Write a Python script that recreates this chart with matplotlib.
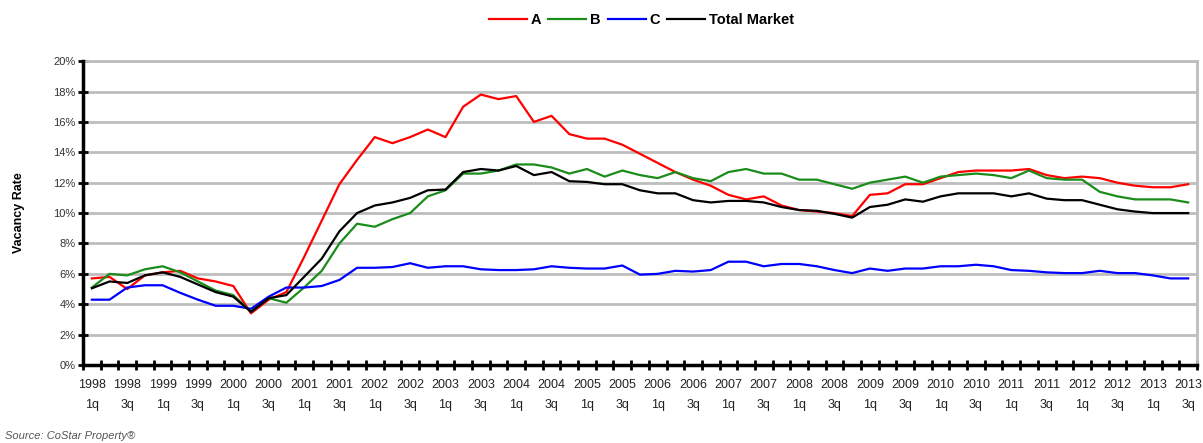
import numpy as np
import matplotlib
matplotlib.use('Agg')
import matplotlib.pyplot as plt
from matplotlib.ticker import FixedLocator, FuncFormatter

# quarterly vacancy rates (%), 1998 1q .. 2013 3q
years = list(range(1998, 2014))
quarters = ['%d %dq' % (y, q) for y in years for q in (1, 2, 3, 4)][:63]

class_a = [5.7, 5.8, 5.0, 5.9, 6.1, 6.2, 5.7, 5.5, 5.2, 3.4,
           4.3, 4.8, 7.1, 9.5, 11.9, 13.5, 15.0, 14.6, 15.0, 15.5,
           15.0, 17.0, 17.8, 17.5, 17.7, 16.0, 16.4, 15.2, 14.9, 14.9,
           14.5, 13.9, 13.3, 12.7, 12.2, 11.8, 11.2, 10.9, 11.1, 10.5,
           10.2, 10.1, 10.0, 9.8, 11.2, 11.3, 11.9, 11.9, 12.3, 12.7,
           12.8, 12.8, 12.8, 12.9, 12.5, 12.3, 12.4, 12.3, 12.0, 11.8,
           11.7, 11.7, 11.9]
class_b = [5.1, 6.0, 5.9, 6.3, 6.5, 6.1, 5.5, 4.9, 4.6, 3.5,
           4.4, 4.1, 5.1, 6.2, 8.0, 9.3, 9.1, 9.6, 10.0, 11.1,
           11.5, 12.6, 12.6, 12.8, 13.2, 13.2, 13.0, 12.6, 12.9, 12.4,
           12.8, 12.5, 12.3, 12.7, 12.3, 12.1, 12.7, 12.9, 12.6, 12.6,
           12.2, 12.2, 11.9, 11.6, 12.0, 12.2, 12.4, 12.0, 12.4, 12.5,
           12.6, 12.5, 12.3, 12.8, 12.3, 12.2, 12.2, 11.4, 11.1, 10.9,
           10.9, 10.9, 10.7]
class_c = [4.3, 4.3, 5.1, 5.25, 5.25, 4.75, 4.3, 3.9, 3.9, 3.7,
           4.5, 5.1, 5.1, 5.2, 5.6, 6.4, 6.4, 6.45, 6.7, 6.4,
           6.5, 6.5, 6.3, 6.25, 6.25, 6.3, 6.5, 6.4, 6.35, 6.35,
           6.55, 5.95, 6.0, 6.2, 6.15, 6.25, 6.8, 6.8, 6.5, 6.65,
           6.65, 6.5, 6.25, 6.05, 6.35, 6.2, 6.35, 6.35, 6.5, 6.5,
           6.6, 6.5, 6.25, 6.2, 6.1, 6.05, 6.05, 6.2, 6.05, 6.05,
           5.9, 5.7, 5.7]
total = [5.05, 5.5, 5.4, 5.9, 6.1, 5.8, 5.3, 4.8, 4.5, 3.5,
         4.4, 4.6, 5.8, 7.0, 8.8, 10.0, 10.5, 10.7, 11.0, 11.5,
         11.55, 12.7, 12.9, 12.8, 13.1, 12.5, 12.7, 12.1, 12.05, 11.9,
         11.9, 11.5, 11.3, 11.3, 10.85, 10.7, 10.8, 10.8, 10.7, 10.4,
         10.2, 10.15, 9.95, 9.7, 10.4, 10.55, 10.9, 10.75, 11.1, 11.3,
         11.3, 11.3, 11.1, 11.3, 10.95, 10.85, 10.85, 10.55, 10.25, 10.1,
         10.0, 10.0, 10.0]

series = [(class_a, 'A', '#ff0000'),
          (class_b, 'B', '#1a8c1a'),
          (class_c, 'C', '#0000ff'),
          (total, 'Total Market', '#000000')]

plt.rcParams['font.family'] = ['Liberation Sans', 'DejaVu Sans']

fig = plt.figure(figsize=(12.03, 4.43), dpi=100)
ax = fig.add_axes([0.069, 0.176, 0.926, 0.686])

x = np.arange(len(quarters))
for vals, name, col in series:
    ax.plot(x, vals, color=col, lw=1.6, label=name, zorder=3)

ax.set_xlim(-0.5, len(quarters) - 0.5)
ax.set_ylim(0, 20)

# grid lines
ax.set_yticks(np.arange(0, 21, 2))
ax.yaxis.set_major_formatter(FuncFormatter(lambda v, p: '%d%%' % v))
ax.grid(axis='y', color='#bdbdbd', lw=2, zorder=0)
ax.tick_params(axis='y', direction='inout', length=7, width=2, labelsize=8,
               labelcolor='#333333', pad=2)

# x labels every other quarter, tick marks between categories
lab_pos = x[::2]
ax.xaxis.set_major_locator(FixedLocator(lab_pos))
ax.set_xticklabels([q.replace(' ', '\n') for q in quarters[::2]],
                   fontsize=9, color='#222222', linespacing=1.9)
ax.tick_params(axis='x', which='major', length=0, pad=10)
ax.xaxis.set_minor_locator(FixedLocator(np.arange(-0.5, len(quarters), 1)))
ax.tick_params(axis='x', which='minor', direction='inout', length=7, width=2)

for s in ['left', 'bottom']:
    ax.spines[s].set_linewidth(2.5)
    ax.spines[s].set_color('black')
    ax.spines[s].set_zorder(4)
for s in ['top', 'right']:
    ax.spines[s].set_linewidth(2)
    ax.spines[s].set_color('#bdbdbd')

ax.set_ylabel('Vacancy Rate', fontsize=9, fontweight='bold', labelpad=20)

leg = fig.legend(loc='upper center', bbox_to_anchor=(0.533, 1.0), ncol=4,
                 frameon=False, fontsize=10.5, handlelength=2.6,
                 handletextpad=0.25, columnspacing=0.5)
for t in leg.get_texts():
    t.set_fontweight('bold')

fig.text(0.004, 0.008, 'Source: CoStar Property\u00ae', fontsize=8,
         style='italic', color='#555555')

fig.savefig('out.png', dpi=100)
